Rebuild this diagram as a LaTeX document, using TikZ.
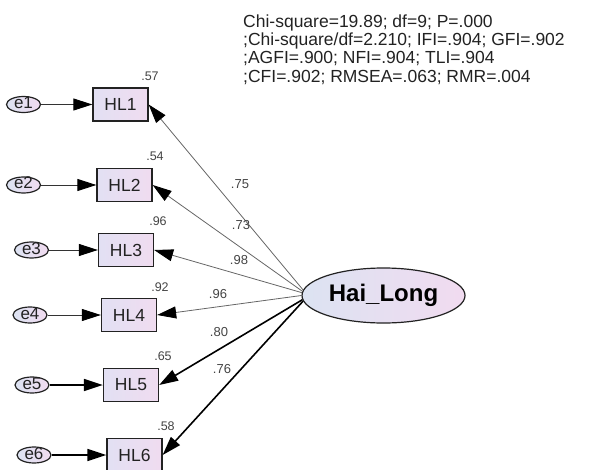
\documentclass[tikz,border=0pt]{standalone}
\usepackage{fontspec}
\setmainfont{Liberation Sans}
\usetikzlibrary{shapes.geometric,arrows.meta}
\definecolor{boxL}{HTML}{E2E0F3}
\definecolor{boxR}{HTML}{F0DCF0}
\definecolor{latL}{HTML}{DCE3F2}
\definecolor{latR}{HTML}{F1DBF0}
\definecolor{ink}{HTML}{222222}
\definecolor{lab}{HTML}{444444}
\begin{document}
\begin{tikzpicture}[x=1pt,y=-1pt]
\tikzset{
  obs/.style={rectangle, draw=ink, line width=1.3pt, minimum width=55pt,
    minimum height=33pt, inner sep=0pt, left color=boxL, right color=boxR,
    text=ink, font=\fontsize{17.5}{18}\selectfont},
  err/.style={ellipse, draw=ink, line width=1.2pt, minimum width=34pt,
    minimum height=16pt, inner sep=0pt, text height=9pt, text depth=1pt,
    left color=latL, right color=latR, text=ink, font=\fontsize{17}{17}\selectfont},
  lat/.style={ellipse, draw=ink, line width=1.2pt, minimum width=163pt,
    minimum height=55pt, inner sep=0pt, text height=17pt, text depth=5pt,
    left color=latL, right color=latR, text=black,
    font=\bfseries\fontsize{24}{26}\selectfont},
  tip/.style={-{Triangle[length=19pt,width=12pt,color=black]}},
  thinpath/.style={tip, draw=black!60, line width=0.8pt},
  darkpath/.style={tip, draw=black!80, line width=0.9pt},
  boldpath/.style={tip, draw=black, line width=1.6pt},
  sq/.style={text=lab, font=\fontsize{12.5}{12.5}\selectfont, inner sep=0pt},
  ld/.style={text=lab, font=\fontsize{13}{13}\selectfont, inner sep=0pt},
}
\useasboundingbox (0,0) rectangle (612,470);

% fit statistics
\node[anchor=north west, inner sep=0pt, align=left, text=ink,
  font=\fontsize{17.5}{18.3}\selectfont] (fit) at (243,14.5)
  {Chi-square=19.89; df=9; P=.000\\
   ;Chi-square/df=2.210; IFI=.904; GFI=.902\\
   ;AGFI=.900; NFI=.904; TLI=.904\\
   ;CFI=.902; RMSEA=.063; RMR=.004};

% latent factor
\node[lat] (hai) at (383.5,295.5) {Hai\_Long};

% indicators and their error terms
\node[obs] (hl1) at (120.5,104.5) {HL1};
\node[obs] (hl2) at (124.5,185) {HL2};
\node[obs] (hl3) at (126,250) {HL3};
\node[obs] (hl4) at (129,315) {HL4};
\node[obs] (hl5) at (131,385) {HL5};
\node[obs] (hl6) at (134.5,455) {HL6};

\node[err] (e1) at (23.5,104.5) {e1};
\node[err] (e2) at (23.5,185) {e2};
\node[err] (e3) at (31.5,250) {e3};
\node[err] (e4) at (30,315) {e4};
\node[err] (e5) at (32,385) {e5};
\node[err] (e6) at (34,455) {e6};

% error paths
\draw[darkpath] (e1) -- (hl1);
\draw[darkpath] (e2) -- (hl2);
\draw[darkpath] (e3) -- (hl3);
\draw[darkpath] (e4) -- (hl4);
\draw[boldpath] (e5) -- (hl5);
\draw[boldpath] (e6) -- (hl6);

% factor loadings
\draw[thinpath] (hai.176) -- (hl1.east);
\draw[thinpath] (hai.177) -- (hl2.east);
\draw[thinpath] (hai.178) -- (hl3.east);
\draw[thinpath] (hai.180) -- (hl4.east);
\draw[boldpath] (hai.183) -- (hl5.east);
\draw[boldpath] (hai.184) -- (hl6.east);

% standardized loadings
\node[ld] (l1) at (240,184) {.75};
\node[ld] (l2) at (241,225) {.73};
\node[ld] (l3) at (239,260) {.98};
\node[ld] (l4) at (218,294) {.96};
\node[ld] (l5) at (219,332) {.80};
\node[ld] (l6) at (222,369) {.76};

% squared multiple correlations
\node[sq] (r1) at (150,76) {.57};
\node[sq] (r2) at (155,156) {.54};
\node[sq] (r3) at (158,221) {.96};
\node[sq] (r4) at (160,287) {.92};
\node[sq] (r5) at (163,356) {.65};
\node[sq] (r6) at (166,426) {.58};
\end{tikzpicture}
\end{document}
